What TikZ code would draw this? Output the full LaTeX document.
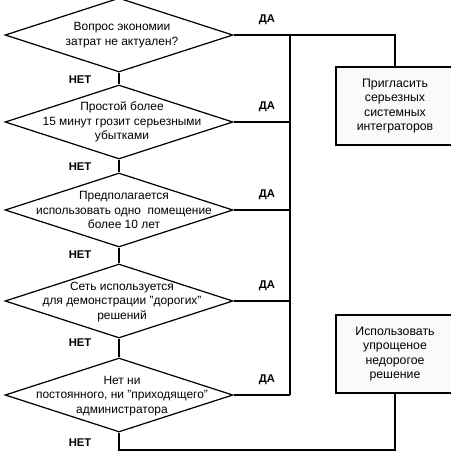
\documentclass[tikz,border=0pt]{standalone}
\usepackage{fontspec}
\setmainfont{Liberation Sans}
\usetikzlibrary{shapes.geometric}
\tikzset{
  every picture/.style={line width=0.7pt},
  decision/.style={draw, shape=diamond, minimum width=4.56cm, minimum height=1.48cm, inner sep=0pt},
  qtext/.style={align=center, font=\fontsize{6.8}{8.2}\selectfont},
  action/.style={draw, line width=1.1pt, fill=gray!4, minimum width=2.36cm, minimum height=1.56cm, align=center, font=\fontsize{7}{8.2}\selectfont},
  answer/.style={font=\bfseries\fontsize{6.4}{7}\selectfont},
}
\begin{document}
\begin{tikzpicture}[x=0.02cm, y=-0.02cm]
  \useasboundingbox (0,0) rectangle (451,451);
  % the five questions, with their ДА / НЕТ labels
  \foreach \i/\y/\n in {1/35/80,2/122/167,3/210/255,4/301/343,5/395/443}{
    \node[decision] (d\i) at (119,\y) {};
    \node[answer] (da\i) at (267,\y-15) {ДА};
    \node[answer] (net\i) at (80,\n) {НЕТ};
    \coordinate (j\i) at (290,\y);
  }
  \node[qtext] (q1) at (122,35) {Вопрос экономии\\затрат не актуален?};
  \node[qtext] (q2) at (122,122) {Простой более\\15 минут грозит серьезными\\убытками};
  \node[qtext] (q3) at (124,210) {Предполагается\\использовать одно\ \ помещение\\более 10 лет};
  \node[qtext] (q4) at (122,302) {Сеть используется\\для демонстрации "дорогих"\\решений};
  \node[qtext] (q5) at (122,396) {Нет ни\\постоянного, ни "приходящего"\\администратора};
  % the two outcomes
  \node[action] (b1) at (395,106) {Пригласить\\серьезных\\системных\\интеграторов};
  \node[action] (b2) at (395,354) {Использовать\\упрощеное\\недорогое\\решение};
  % connectors
  \foreach \i in {1,...,4} \draw (d\i.south) -- (d\the\numexpr\i+1\relax.north);
  \foreach \i in {2,...,5} \draw (d\i.east) -- (j\i);
  \draw (j1) -- (j5);
  \draw (d1.east) -| (b1.north);
  \coordinate (low) at (119,450);
  \draw (d5.south) -- (low) -| (b2.south);
\end{tikzpicture}
\end{document}
